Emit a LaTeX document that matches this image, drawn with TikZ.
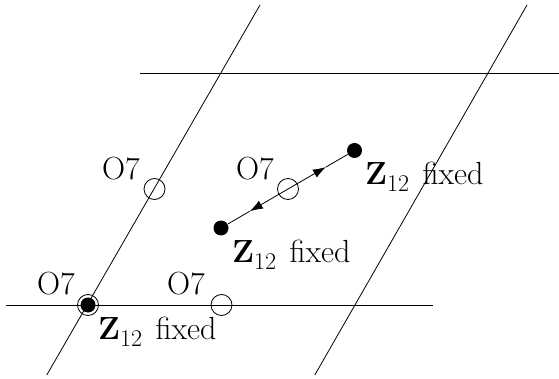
\documentclass[tikz,border=0pt]{standalone}
\usepackage{fontspec}
\usetikzlibrary{arrows.meta}
\tikzset{every picture/.style={line width=0.8pt}}
\tikzset{
  orbi/.style={circle,draw,inner sep=0pt,minimum size=21pt},
  fixd/.style={circle,fill,inner sep=0pt,minimum size=15pt},
  lbl/.style={inner sep=0.75pt,font=\fontsize{32}{38}\selectfont},
  flow/.style={-{Latex[length=13pt,width=9pt]}},
}
\newcommand{\zfix}{\textbf{Z}\raisebox{-0.22em}{\fontsize{24}{28}\selectfont 12}\hspace{0.42em}fixed}
\begin{document}
\begin{tikzpicture}[x=1pt,y=1pt,yscale=-1,xscale=1]
\useasboundingbox (0,0) rectangle (559,379);

%Straight Lines: lattice
\draw (46.8,375) -- (260,5);
\draw (314.8,375) -- (527,5);
\draw (140,73) -- (559,73);
\draw (6,305) -- (433,305);

%Shape: open circles (O7)
\node [orbi] (o0) at (88,305) {};
\node [orbi] (o1) at (154.5,189) {};
\node [orbi] (o2) at (288,189) {};
\node [orbi] (o3) at (221.5,305) {};
%Shape: filled circles (fixed)
\node [fixd] (z0) at (88,305) {};
\node [fixd] (z1) at (221,228) {};
\node [fixd] (z2) at (354.5,150.5) {};

%Arrows from the centre
\path (o2.center) -- (z2.center) coordinate [pos=0.57] (m2);
\path (o2.center) -- (z1.center) coordinate [pos=0.57] (m1);
\draw [flow] (o2.center) -- (m2);
\draw (m2) -- (z2);
\draw [flow] (o2.center) -- (m1);
\draw (m1) -- (z1);

% Text Node
\node [lbl,anchor=south east] (t0) at (76,296) {O7};
% Text Node
\node [lbl,anchor=south east] (t1) at (141,181) {O7};
% Text Node
\node [lbl,anchor=south east] (t2) at (275,181) {O7};
% Text Node
\node [lbl,anchor=south east] (t3) at (206,296) {O7};
% Text Node
\node [lbl,anchor=north west] (f0) at (97,316) {\zfix};
% Text Node
\node [lbl,anchor=north west] (f1) at (231,239) {\zfix};
% Text Node
\node [lbl,anchor=north west] (f2) at (364,161) {\zfix};

\end{tikzpicture}
\end{document}
